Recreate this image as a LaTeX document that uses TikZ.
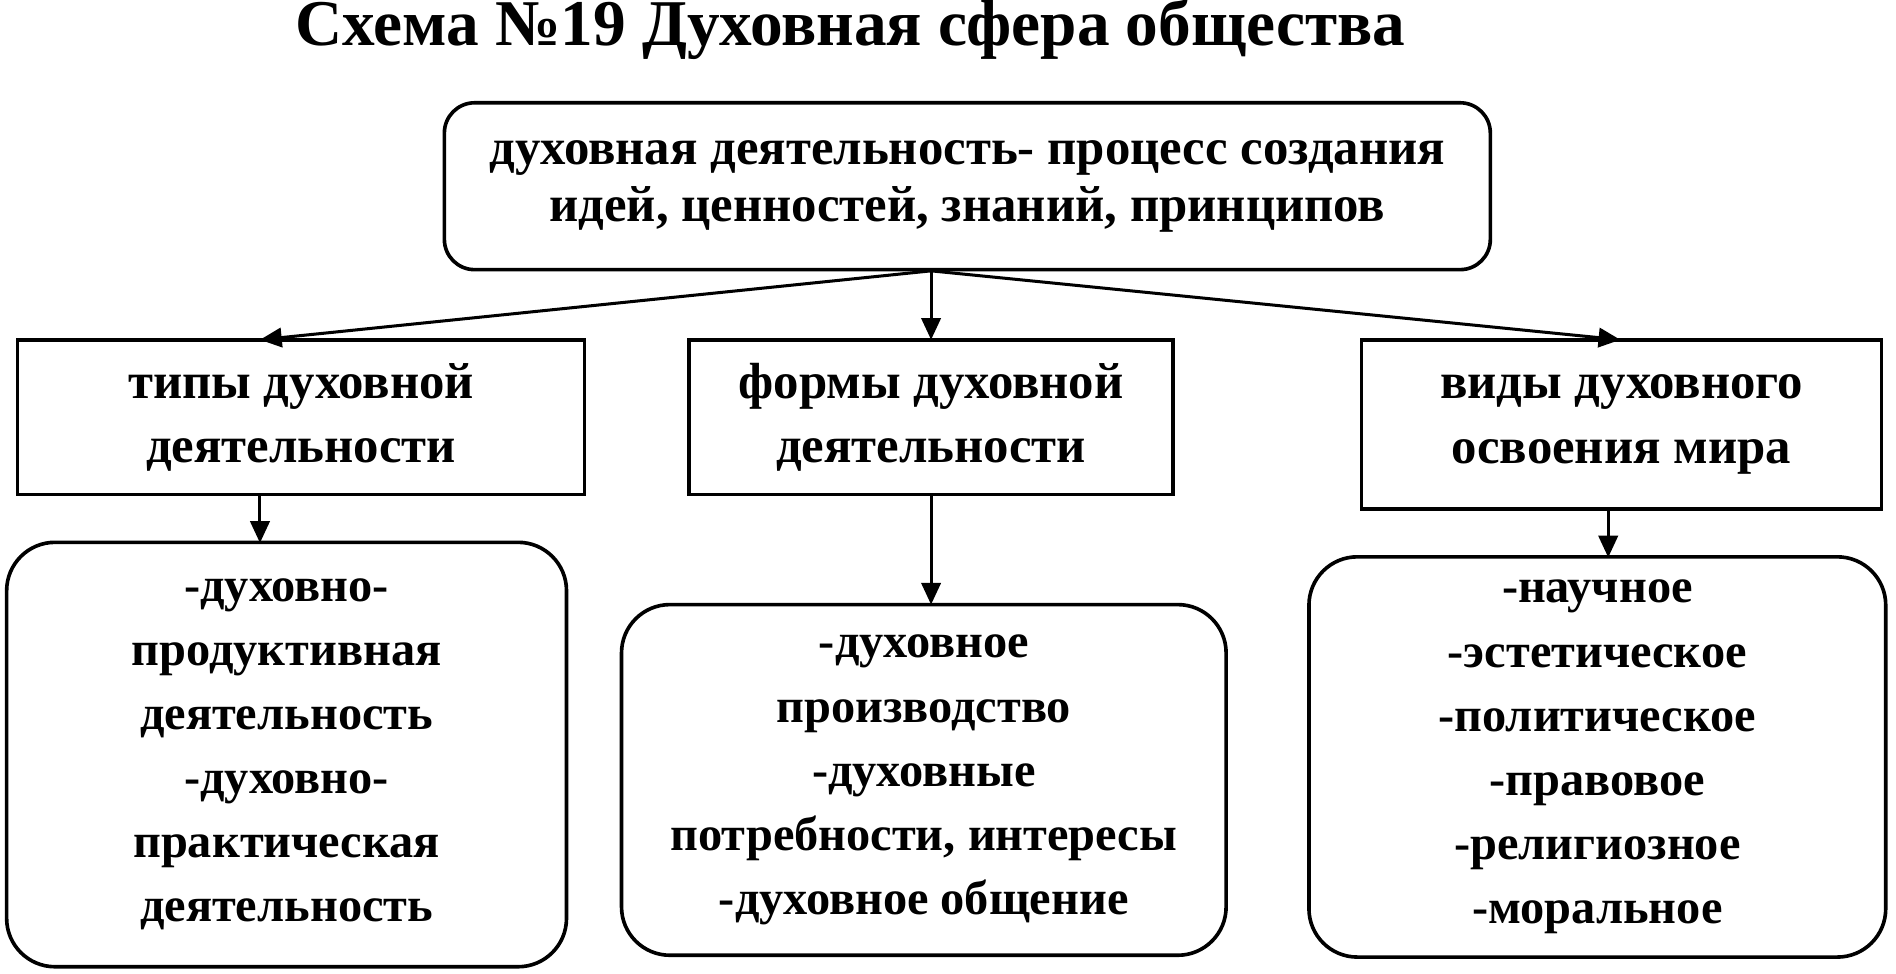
\documentclass[tikz,border=0pt]{standalone}
\usepackage{fontspec}
\setmainfont{Liberation Serif}
\usetikzlibrary{arrows.meta}
\begin{document}
\begin{tikzpicture}[x=1pt,y=-1pt,
  box/.style={draw,line width=3pt,align=center,font=\fontsize{42}{53}\selectfont\bfseries},
  rbox/.style={box,rounded corners=40pt,font=\fontsize{40}{53}\selectfont\bfseries},
  arr/.style={line width=2.5pt,-{Triangle[length=18pt,width=16pt]}}]
\useasboundingbox[fill=white] (0,0) rectangle (1568,805);
\node[font=\fontsize{54}{58}\selectfont\bfseries] (title) at (703,24) {Схема №19 Духовная сфера общества};
\node[box,rounded corners=25pt,minimum width=865pt,minimum height=138pt,font=\fontsize{42}{47}\selectfont\bfseries] (top) at (800,154) {духовная деятельность- процесс создания\\идей, ценностей, знаний, принципов};
\node[box,minimum width=469pt,minimum height=128pt] (l2) at (249,345) {типы духовной\\деятельности};
\node[box,minimum width=400pt,minimum height=128pt] (m2) at (770,345) {формы духовной\\деятельности};
\node[box,minimum width=430pt,minimum height=140pt] (r2) at (1341,351) {виды духовного\\освоения мира};
\node[rbox,minimum width=463pt,minimum height=351pt] (l3) at (237,624) {-духовно-\\продуктивная\\деятельность\\-духовно-\\практическая\\деятельность};
\node[rbox,minimum width=500pt,minimum height=290pt] (m3) at (764,645) {-духовное\\производство\\-духовные\\потребности, интересы\\-духовное общение};
\node[rbox,minimum width=477pt,minimum height=331pt] (r3) at (1321,626) {-научное\\-эстетическое\\-политическое\\-правовое\\-религиозное\\-моральное};
\coordinate (tp) at (770,224);
\draw[arr] (tp) -- (215,281);
\draw[arr] (tp) -- (770,281);
\draw[arr] (tp) -- (1340,281);
\draw[arr] (215,409) -- (215,449);
\draw[arr] (770,409) -- (770,500);
\draw[arr] (1330,421) -- (1330,461);
\end{tikzpicture}
\end{document}
